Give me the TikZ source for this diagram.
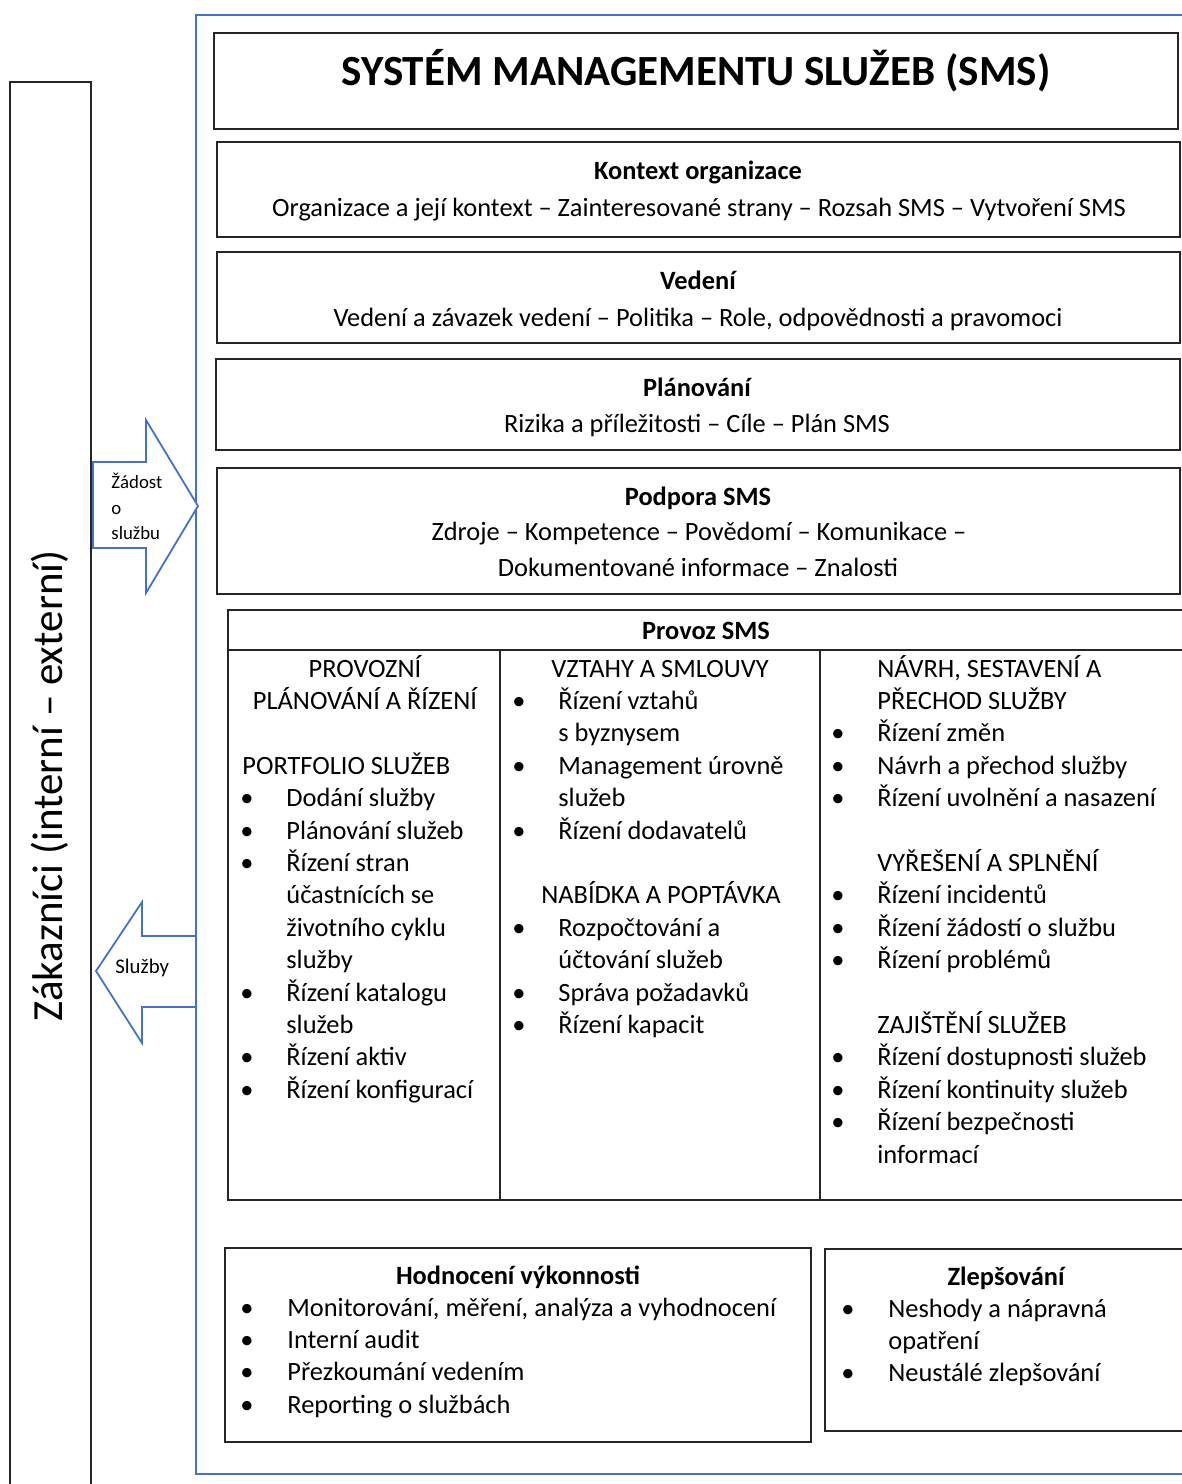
\documentclass[tikz,border=0pt]{standalone}
\usepackage{fontspec}
\setmainfont{Carlito}
\definecolor{frameblue}{HTML}{4472C4}
\definecolor{boxline}{HTML}{262626}
\newcommand{\bodyfont}{\fontsize{13.2}{16}\selectfont}
\tikzset{
    box/.style={draw=boxline, line width=1pt},
    frame/.style={draw=frameblue, line width=0.8pt},
    bigarrow/.style={draw=frameblue, fill=white, line width=0.9pt, line join=miter},
    txt/.style={anchor=base west, inner sep=0pt, font=\bodyfont},
    ctxt/.style={anchor=base, inner sep=0pt, font=\bodyfont},
    head/.style={anchor=base, inner sep=0pt, font=\bodyfont\bfseries},
    small/.style={anchor=base west, inner sep=0pt, font=\fontsize{9.4}{12}\selectfont},
}

\begin{document}
\begin{tikzpicture}[x=0.5pt,y=-0.5pt]
    \useasboundingbox (0,0) rectangle (1182,1484);

    % customers and SMS frame
    \draw[box] (10,1484) -- (10,82) -- (91,82) -- (91,1484);
    \draw[frame] (1182,15) -- (196,15) -- (196,1474) -- (1182,1474);
    \node[rotate=90, inner sep=0pt, font=\fontsize{21.5}{26}\selectfont] (zakaznici) at (50,786) {Zákazníci (interní – externí)};

    % arrows
    \draw[bigarrow] (93,462) -- (146,462) -- (146,420) -- (198,506) -- (146,593) -- (146,548) -- (93,548) -- cycle;
    \node[small] (zadost) at (111,488) {Žádost};
    \node[small] (zadost-o) at (111,514) {o};
    \node[small] (zadost-s) at (111,539) {službu};
    \draw[bigarrow] (196,936) -- (142,936) -- (142,902) -- (96,971) -- (142,1043) -- (142,1007) -- (196,1007) -- cycle;
    \node[small, font=\fontsize{10.4}{12}\selectfont] (sluzby) at (115,973) {Služby};

    % top boxes
    \draw[box] (214,33) rectangle (1178,129);
    \node[anchor=base, inner sep=0pt, font=\fontsize{21.5}{26}\selectfont\bfseries] (title) at (696,85) {SYSTÉM MANAGEMENTU SLUŽEB (SMS)};

    \draw[box] (217,142) rectangle (1180,237);
    \node[head] (kontext) at (698,179) {Kontext organizace};
    \node[ctxt] (kontext-t) at (699,216) {Organizace a její kontext – Zainteresované strany – Rozsah SMS – Vytvoření SMS};

    \draw[box] (217,252) rectangle (1180,343);
    \node[head] (vedeni) at (698,289) {Vedení};
    \node[ctxt] (vedeni-t) at (698,326) {Vedení a závazek vedení – Politika – Role, odpovědnosti a pravomoci};

    \draw[box] (216,359) rectangle (1180,450);
    \node[head] (planovani) at (697,396) {Plánování};
    \node[ctxt] (planovani-t) at (697,432) {Rizika a příležitosti – Cíle – Plán SMS};

    \draw[box] (217,468) rectangle (1180,594);
    \node[head] (podpora) at (698,505) {Podpora SMS};
    \node[ctxt] (podpora-t1) at (699,540) {Zdroje – Kompetence – Povědomí – Komunikace –};
    \node[ctxt] (podpora-t2) at (698,576) {Dokumentované informace – Znalosti};

    % provoz table
    \draw[box] (1182,610) -- (228,610) -- (228,1200) -- (1182,1200);
    \draw[box] (228,650) -- (1182,650);
    \draw[box] (500,650) -- (500,1200);
    \draw[box] (820,650) -- (820,1200);
    \node[head] (provoz) at (706,639) {Provoz SMS};

    % column 1
    \node[ctxt] (c1-0) at (365,677) {PROVOZNÍ};
    \node[ctxt] (c1-1) at (365,{677+32.4}) {PLÁNOVÁNÍ A ŘÍZENÍ};
    \node[txt] (c1-3) at (242,{677+32.4*3}) {PORTFOLIO SLUŽEB};
    \foreach \n/\t in {4/Dodání služby, 5/Plánování služeb, 6/Řízení stran, 7/účastnících se,
                       8/životního cyklu, 9/služby, 10/Řízení katalogu, 11/služeb,
                       12/Řízení aktiv, 13/Řízení konfigurací}
        \node[txt] (c1-\n) at (286,{677+32.4*\n}) {\t};
    \foreach \n in {4,5,6,10,12,13}
        \node[txt] (b1-\n) at (240,{677+32.4*\n}) {•};

    % column 2
    \node[ctxt] (c2-0) at (660,677) {VZTAHY A SMLOUVY};
    \node[ctxt] (c2-7) at (661,{677+32.4*7}) {NABÍDKA A POPTÁVKA};
    \foreach \n/\t in {1/Řízení vztahů, 2/s byznysem, 3/Management úrovně, 4/služeb,
                       5/Řízení dodavatelů, 8/Rozpočtování a, 9/účtování služeb,
                       10/Správa požadavků, 11/Řízení kapacit}
        \node[txt] (c2-\n) at (558,{677+32.4*\n}) {\t};
    \foreach \n in {1,3,5,8,10,11}
        \node[txt] (b2-\n) at (512,{677+32.4*\n}) {•};

    % column 3
    \foreach \n/\t in {0/{NÁVRH, SESTAVENÍ A}, 1/PŘECHOD SLUŽBY, 2/Řízení změn,
                       3/Návrh a přechod služby, 4/Řízení uvolnění a nasazení,
                       6/VYŘEŠENÍ A SPLNĚNÍ, 7/Řízení incidentů, 8/Řízení žádostí o službu,
                       9/Řízení problémů, 11/ZAJIŠTĚNÍ SLUŽEB, 12/Řízení dostupnosti služeb,
                       13/Řízení kontinuity služeb, 14/Řízení bezpečnosti, 15/informací}
        \node[txt] (c3-\n) at (877,{677+32.4*\n}) {\t};
    \foreach \n in {2,3,4,7,8,9,12,13,14}
        \node[txt] (b3-\n) at (831,{677+32.4*\n}) {•};

    % bottom boxes
    \draw[box] (225,1248) rectangle (811,1442);
    \node[head] (hodnoceni) at (518,1284) {Hodnocení výkonnosti};
    \foreach \n/\t in {0/{Monitorování, měření, analýza a vyhodnocení}, 1/Interní audit,
                       2/Přezkoumání vedením, 3/Reporting o službách}
    {
        \node[txt] (h-\n) at (287,{1316+32.4*\n}) {\t};
        \node[txt] (hb-\n) at (240,{1316+32.4*\n}) {•};
    }

    \draw[box] (1182,1249) -- (825,1249) -- (825,1431) -- (1182,1431);
    \node[head] (zlepsovani) at (1006,1285) {Zlepšování};
    \foreach \n/\t in {0/Neshody a nápravná, 1/opatření, 2/Neustálé zlepšování}
        \node[txt] (z-\n) at (888,{1317+32.4*\n}) {\t};
    \foreach \n in {0,2}
        \node[txt] (zb-\n) at (841,{1317+32.4*\n}) {•};
\end{tikzpicture}
\end{document}
